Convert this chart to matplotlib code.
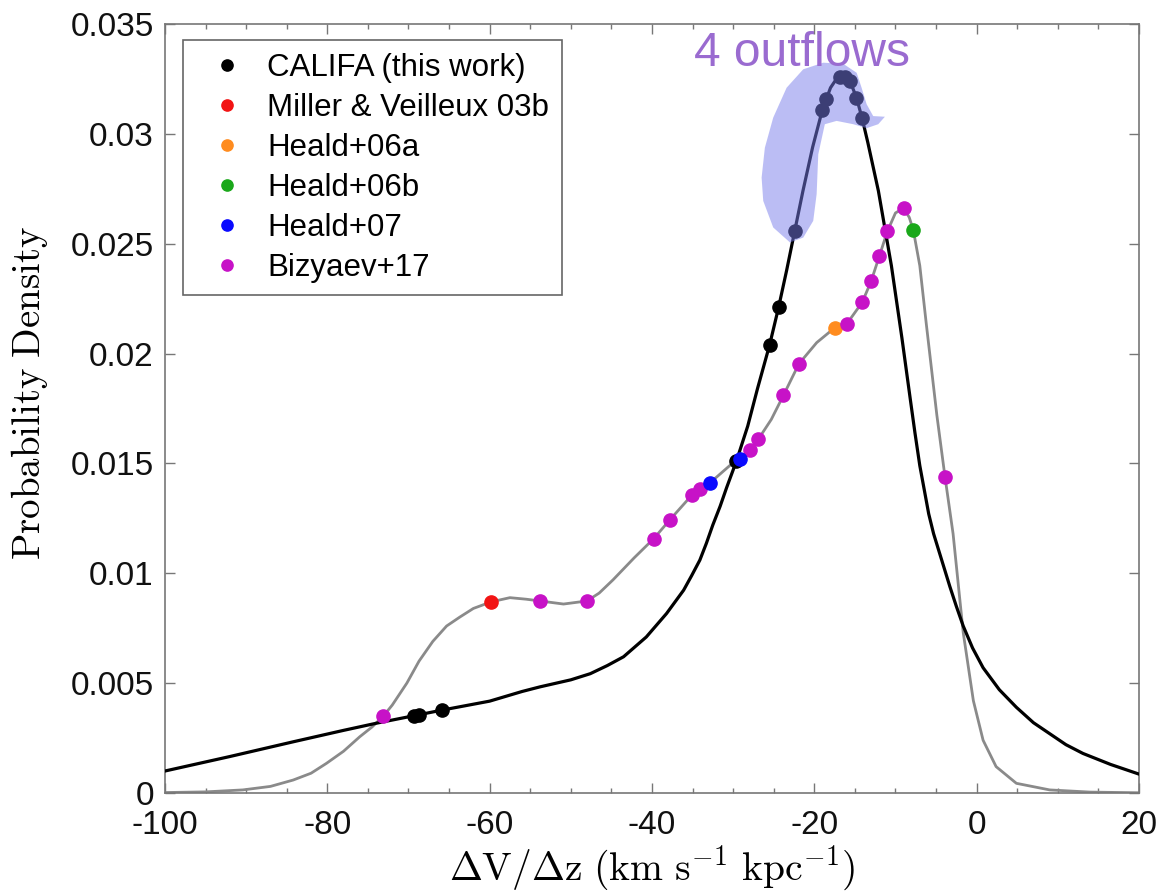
import numpy as np
import matplotlib.pyplot as plt
from matplotlib.patches import Polygon

plt.rcParams['font.family'] = ['Liberation Sans', 'DejaVu Sans']
plt.rcParams['mathtext.fontset'] = 'cm'
plt.rcParams['axes.unicode_minus'] = False

# density curves (velocity gradient, probability density)
califa_curve_x = [-100, -92, -84.2, -78, -73.9, -69, -65.9, -60, -56, -53.8, -50, -47.6,
                  -45.5, -43.5, -40.7, -38.2, -36.1, -35.1, -34.1, -33.3, -32.5, -31.6,
                  -30.8, -29.6, -28.2, -27, -25.5, -24.4, -23.4, -22.4, -21.4, -20.2,
                  -19.0, -18.0, -17.0, -16.3, -15.6, -14.8, -14.1, -13.4, -12.1, -10.5,
                  -9.2, -8.2, -7.6, -7.0, -6.4, -5.9, -5.3, -4.3, -3.3, -2.5, -1.65,
                  -0.5, 0.8, 2.8, 4.9, 7.0, 9.0, 11.0, 13.1, 16.5, 20]
califa_curve_y = [0.00100, 0.00166, 0.00233, 0.00285, 0.00318, 0.00354, 0.00377, 0.00418,
                  0.00462, 0.00483, 0.00515, 0.00543, 0.00580, 0.00620, 0.00710, 0.00817,
                  0.00923, 0.00990, 0.01060, 0.01136, 0.01220, 0.01305, 0.01390, 0.01510,
                  0.01670, 0.01840, 0.02040, 0.02210, 0.02380, 0.02560, 0.02740, 0.02940,
                  0.03110, 0.03210, 0.03265, 0.03270, 0.03240, 0.03165, 0.03070, 0.02960,
                  0.02740, 0.02400, 0.02070, 0.01800, 0.01640, 0.01490, 0.01370, 0.01270,
                  0.01180, 0.01060, 0.00940, 0.00850, 0.00760, 0.00660, 0.00570, 0.00470,
                  0.00390, 0.00320, 0.00270, 0.00220, 0.00180, 0.00130, 0.00086]

lit_curve_x = [-100, -95, -90.4, -87, -84.2, -82, -80.1, -78, -76.0, -74.5, -73.1, -72.0,
               -70.2, -68.7, -67.0, -65.3, -63.7, -62.0, -59.8, -57.5, -55.5, -53.8, -50.9,
               -48.0, -46.5, -44.8, -42.2, -39.8, -37.8, -35.1, -32.9, -29.8, -27.9, -26.9,
               -25.3, -23.8, -21.9, -19.7, -17.5, -16.0, -14.1, -13.0, -12.0, -11.0, -10.0,
               -9.0, -8.3, -7.8, -7.0, -6.2, -4.9, -3.9, -2.9, -1.65, -0.4, 0.8, 2.4, 4.9,
               9.0, 14, 20]
lit_curve_y = [0.00002, 0.00005, 0.00014, 0.00030, 0.00059, 0.00090, 0.00135, 0.00190,
               0.00256, 0.00300, 0.00350, 0.00400, 0.00500, 0.00600, 0.00690, 0.00760,
               0.00800, 0.00840, 0.00870, 0.00889, 0.00882, 0.00874, 0.00860, 0.00874,
               0.00910, 0.00970, 0.01070, 0.01157, 0.01243, 0.01355, 0.01410, 0.01510,
               0.01560, 0.01610, 0.01700, 0.01810, 0.01953, 0.02050, 0.02117, 0.02135,
               0.02233, 0.02329, 0.02442, 0.02556, 0.02640, 0.02662, 0.02620, 0.02562,
               0.02400, 0.02135, 0.01720, 0.01440, 0.01180, 0.00730, 0.00420, 0.00240,
               0.00120, 0.00044, 0.00014, 0.00004, 0.00001]

# individual galaxies
califa_x = [-69.3, -68.7, -65.9, -29.6, -25.5, -24.4, -22.4, -19.0, -18.6, -16.8, -16.2,
            -15.6, -14.8, -14.1]
califa_y = [0.00352, 0.00355, 0.00377, 0.0151, 0.0204, 0.0221, 0.0256, 0.0311, 0.0316,
            0.0326, 0.0326, 0.0324, 0.03165, 0.0307]
miller_x = [-59.8]
miller_y = [0.0087]
heald06a_x = [-17.5]
heald06a_y = [0.02117]
heald06b_x = [-7.8]
heald06b_y = [0.02562]
heald07_x = [-32.9, -29.2]
heald07_y = [0.0141, 0.0152]
bizyaev_x = [-73.1, -53.8, -48.0, -39.8, -37.8, -35.1, -34.1, -27.9, -26.9, -23.8, -21.9,
             -16.0, -14.1, -13.0, -12.0, -11.0, -9.0, -3.9]
bizyaev_y = [0.0035, 0.00874, 0.00874, 0.01157, 0.01243, 0.01355, 0.01385, 0.0156, 0.0161,
             0.0181, 0.01953, 0.02135, 0.02233, 0.02329, 0.02442, 0.02556, 0.02662, 0.0144]

# outline of the highlighted outflow region
outflow_x = [-26.49, -26.09, -25.06, -23.41, -21.36, -18.90, -16.43, -14.78, -14.17, -13.55,
             -12.74, -11.30, -12.12, -13.55, -15.20, -17.25, -18.70, -19.51, -19.71, -20.13,
             -21.36, -23.00, -25.06, -26.29]
outflow_y = [0.02801, 0.02937, 0.03074, 0.03210, 0.03294, 0.03324, 0.03319, 0.03278, 0.03210,
             0.03135, 0.03081, 0.03078, 0.03044, 0.03026, 0.03044, 0.03059, 0.03044, 0.02907,
             0.02726, 0.02604, 0.02528, 0.02506, 0.02574, 0.02695]

fig = plt.figure(figsize=(11.61, 8.93), dpi=100)
ax = fig.add_axes([0.1421, 0.112, 0.8389, 0.8611])

ax.plot(lit_curve_x, lit_curve_y, color='#8a8a8a', lw=2.0, zorder=2)
ax.plot(califa_curve_x, califa_curve_y, color='black', lw=2.3, zorder=3)

ms = 9.5
ax.plot(califa_x, califa_y, 'o', color='black', ms=ms, zorder=4, label='CALIFA (this work)')
ax.plot(miller_x, miller_y, 'o', color='#f21414', ms=ms, zorder=4, label='Miller & Veilleux 03b')
ax.plot(heald06a_x, heald06a_y, 'o', color='#ff8c1f', ms=ms, zorder=4, label='Heald+06a')
ax.plot(heald06b_x, heald06b_y, 'o', color='#1aa81a', ms=ms, zorder=4, label='Heald+06b')
ax.plot(heald07_x, heald07_y, 'o', color='#0a0aff', ms=ms, zorder=5, label='Heald+07')
ax.plot(bizyaev_x, bizyaev_y, 'o', color='#c712c7', ms=ms, zorder=4, label='Bizyaev+17')

shape = Polygon(np.column_stack([outflow_x, outflow_y]), closed=True,
                facecolor=(0.47, 0.49, 0.92), alpha=0.5, edgecolor='none', zorder=6)
ax.add_patch(shape)
ax.text(-21.5, 0.0331, '4 outflows', color='#9a6bd0', fontsize=34.5,
        ha='center', va='baseline', zorder=7)

ax.set_xlim(-100, 20)
ax.set_ylim(0, 0.035)
ax.set_xticks(np.arange(-100, 21, 20))
ax.set_xticks(np.arange(-100, 21, 5), minor=True)
ax.set_yticks(np.arange(0, 0.0351, 0.005))
ax.set_yticklabels(['0', '0.005', '0.01', '0.015', '0.02', '0.025', '0.03', '0.035'])

for s in ax.spines.values():
    s.set_color('#777777')
    s.set_linewidth(1.2)
ax.tick_params(which='both', direction='in', top=True, right=True, color='#777777',
               labelsize=24, labelcolor='#111111')
ax.tick_params(which='major', length=7, width=1.0, pad=8)
ax.tick_params(axis='x', which='major', pad=12)
ax.tick_params(which='minor', length=3.5, width=1.0)

ax.set_xlabel(r'$\Delta\mathrm{V}/\Delta\mathrm{z}\ (\mathrm{km\ s^{-1}\ kpc^{-1}})$',
              fontsize=28.5, labelpad=2)
ax.set_ylabel(r'$\mathrm{Probability\ Density}$', fontsize=28)
ax.yaxis.set_label_coords(-0.118, 0.52)

leg = ax.legend(loc='upper left', bbox_to_anchor=(0.0185, 0.979), borderaxespad=0,
                fontsize=22.5, frameon=True, fancybox=False, framealpha=1,
                edgecolor='#666666', handlelength=2.0, handletextpad=0.3,
                labelspacing=0.32, borderpad=0.4, markerscale=0.85)
leg.get_frame().set_linewidth(1.2)
leg.set_zorder(8)

fig.savefig('out.png', dpi=100)
